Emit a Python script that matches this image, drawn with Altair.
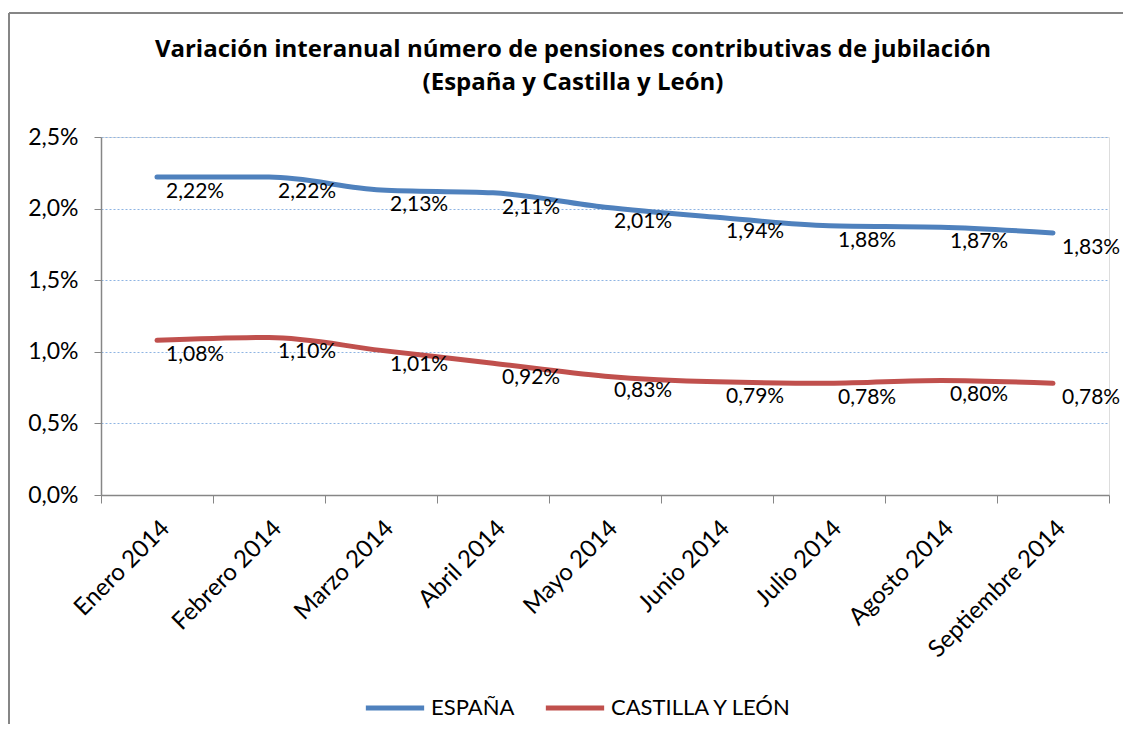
import altair as alt
import pandas as pd

months = ["Enero 2014", "Febrero 2014", "Marzo 2014", "Abril 2014", "Mayo 2014",
          "Junio 2014", "Julio 2014", "Agosto 2014", "Septiembre 2014"]
espana = [2.22, 2.22, 2.13, 2.11, 2.01, 1.94, 1.88, 1.87, 1.83]
cyl = [1.08, 1.10, 1.01, 0.92, 0.83, 0.79, 0.78, 0.80, 0.78]
series_names = ["ESPAÑA", "CASTILLA Y LEÓN"]
series_colors = ["#4F81BD", "#C0504D"]
y_ticks = [0, 0.5, 1.0, 1.5, 2.0, 2.5]
title_lines = ["Variación interanual número de pensiones contributivas de jubilación",
               "(España y Castilla y León)"]

rows = []
for name, vals in zip(series_names, [espana, cyl]):
    for m, v in zip(months, vals):
        rows.append({"mes": m, "serie": name, "valor": v,
                     "etiqueta": f"{v:.2f}".replace(".", ",") + "%"})
df = pd.DataFrame(rows)

FONT = "Lato"

x_enc = alt.X("mes:N", sort=months, bandPosition=0.5,
              scale=alt.Scale(type="band", paddingInner=0, paddingOuter=0),
              axis=alt.Axis(title=None, labelAngle=-45, labelFontSize=24, labelFont=FONT,
                            labelColor="black", tickBand="extent", tickSize=8,
                            tickColor="#868686", domainColor="#868686", domainWidth=1.5,
                            labelPadding=13, labelLimit=300, grid=False))
y_enc = alt.Y("valor:Q", scale=alt.Scale(domain=[0, 2.5], nice=False),
              axis=alt.Axis(title=None, values=y_ticks, labelFontSize=23, labelFont=FONT,
                            labelColor="black",
                            labelExpr="replace(format(datum.value, '.1f'), '.', ',') + '%'",
                            tickSize=7, tickColor="#868686", domainColor="#868686",
                            domainWidth=1.5, labelPadding=16,
                            grid=True, gridColor="#8EB4E3", gridDash=[2, 2], gridWidth=1))

color_enc = alt.Color("serie:N", sort=series_names,
                      scale=alt.Scale(domain=series_names, range=series_colors),
                      legend=alt.Legend(title=None, orient="none", direction="horizontal",
                                        legendX=262, legendY=539, symbolType="stroke",
                                        symbolSize=3400, symbolStrokeWidth=5,
                                        labelFontSize=22, labelFont=FONT, labelColor="black",
                                        labelOffset=4, columnPadding=20, labelLimit=400))

lines = alt.Chart(df).mark_line(strokeWidth=5, interpolate="monotone", strokeCap="round").encode(
    x=x_enc, y=y_enc, color=color_enc)

labels = alt.Chart(df).mark_text(align="left", baseline="middle", dx=9, dy=15,
                                 fontSize=21, font=FONT, color="black").encode(
    x=alt.X("mes:N", sort=months, bandPosition=0.5), y="valor:Q", text="etiqueta:N")

one = pd.DataFrame({"k": [0]})

frame_left = alt.Chart(one).mark_rule(stroke="#868686", strokeWidth=2).encode(
    x=alt.value(-92), y=alt.value(-124), y2=alt.value(800))
frame_top = alt.Chart(one).mark_rule(stroke="#868686", strokeWidth=2).encode(
    x=alt.value(-92), x2=alt.value(1200), y=alt.value(-124))

title = alt.Chart(one).mark_text(
    text=title_lines, fontSize=24, font="Open Sans", fontWeight="bold", color="black",
    align="center", baseline="alphabetic", lineHeight=33).encode(
    x=alt.value(472), y=alt.value(-80))

chart = alt.layer(frame_left, frame_top, lines, labels, title).properties(
    width=1008, height=358,
    autosize=alt.AutoSizeParams(type="none"),
    padding={"left": 93, "top": 129, "right": 14, "bottom": 229},
).configure_view(strokeWidth=0).configure(background="white")

chart.save("out.html", embed_options={"renderer": "svg", "actions": False})
